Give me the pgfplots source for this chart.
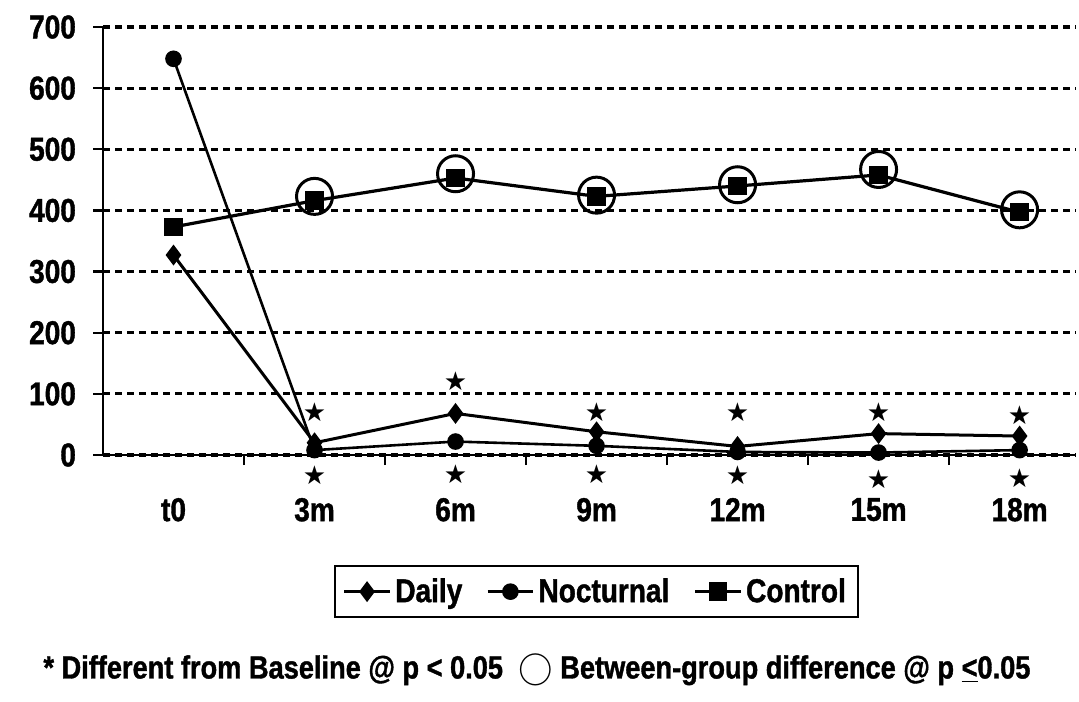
\documentclass[border=0pt]{standalone}
\usepackage{pgfplots}
\pgfplotsset{compat=1.18}
\usepackage{fontspec}
\setmainfont{Liberation Sans}[FakeStretch=0.85, BoldFeatures={FakeBold=1.2}]
\newfontfamily\djv{DejaVu Sans}
\newcommand{\lbl}{\fontsize{16.5}{18}\selectfont\bfseries}
\newcommand{\starsym}{{\djv\fontsize{13}{13}\selectfont ★}}
\begin{document}
\begin{tikzpicture}
\begin{axis}[
  scale only axis,
  width=486.5pt, height=214pt,
  xmin=-0.5, xmax=6.4,
  ymin=0, ymax=700,
  clip=false,
  axis x line*=bottom, axis y line*=left,
  axis line style={line width=1.4pt, -},
  ytick={0,100,...,700},
  ytick style={draw=black, line width=1.2pt},
  ymajorgrids,
  major grid style={black, line width=1.6pt, dash pattern=on 3.5pt off 2.5pt},
  xtick={0.5,1.5,...,5.5},
  xticklabels={},
  xtick style={draw=black, line width=1.2pt},
  tick align=outside,
  major tick length=5pt,
  extra x ticks={0,1,2,3,4,5,6},
  extra x tick labels={t0,3m,6m,9m,12m,15m,18m},
  extra x tick style={major tick length=0pt, grid=none},
  xticklabel style={font=\lbl, yshift=-18pt},
  yticklabel style={font=\lbl, xshift=-5pt},
  /pgf/number format/assume math mode=true,
  legend style={at={(0.507,-0.257)}, anchor=north, draw=black, line width=1.2pt,
    font=\lbl, legend columns=3, inner sep=4pt,
    /tikz/every even column/.append style={column sep=10pt}},
  legend cell align=left,
  legend image code/.code={\draw[mark repeat=2,mark phase=2] plot coordinates {(0cm,0cm)(0.4cm,0cm)(0.8cm,0cm)};},
]
% Daily
\addplot[black, line width=1.5pt, mark=diamond*, mark size=4pt, mark options={solid}]
  coordinates {(0,327)(1,20)(2,68)(3,38)(4,14)(5,35)(6,31)};
\addlegendentry{Daily}
% Nocturnal
\addplot[black, line width=1.3pt, mark=*, mark size=3.5pt]
  coordinates {(0,648)(1,8)(2,22)(3,15)(4,5)(5,4)(6,8)};
\addlegendentry{Nocturnal}
% Control
\addplot[black, line width=1.6pt, mark=square*, mark size=3.8pt]
  coordinates {(0,373)(1,416)(2,453)(3,423)(4,440)(5,458)(6,397)};
\addlegendentry{Control}
% between-group circles
\addplot[forget plot, only marks, mark=o, mark size=9pt, mark options={line width=1.5pt}]
  coordinates {(1,423)(2,460)(3,425)(4,442)(5,467)(6,401)};
% stars above
\addplot[forget plot, only marks, mark=text, text mark={\starsym}]
  coordinates {(1,70)(2,120)(3,70)(4,70)(5,70)(6,65)};
% stars below
\addplot[forget plot, only marks, mark=text, text mark={\starsym}]
  coordinates {(1,-33)(2,-32)(3,-32)(4,-33)(5,-40)(6,-38)};
\node[font=\fontsize{16}{18}\selectfont\bfseries, anchor=center] at (rel axis cs:0.446,-0.502)
  {* Different from Baseline @ p < 0.05\ \ {\fontsize{19}{19}\selectfont$\bigcirc$}\ Between-group difference @ p \underline{<}0.05};
\end{axis}
\pgfresetboundingbox
\path (-51.5pt,-123pt) rectangle (488pt,227.5pt);
\end{tikzpicture}
\end{document}
